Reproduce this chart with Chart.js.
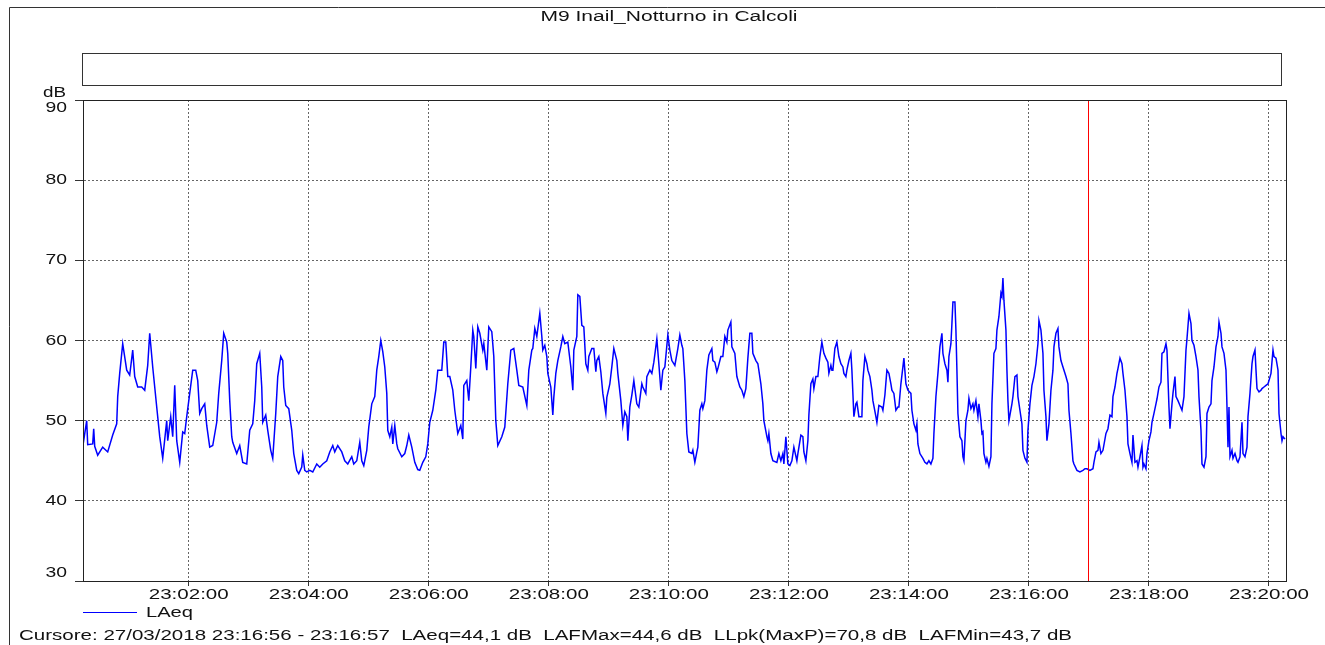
<!DOCTYPE html>
<html>
<head>
<meta charset="utf-8">
<title>M9 Inail_Notturno in Calcoli</title>
<script src="https://cdn.jsdelivr.net/npm/chart.js@4/dist/chart.umd.min.js"></script>
<style>
	html, body { margin: 0; padding: 0; background: #fff; }
	#wrap { width: 1325px; height: 645px; position: relative; }
</style>
</head>
<body>
<div id="wrap"><canvas id="laeq_chart" width="1325" height="645"></canvas></div>
<script>
// seconds after 23:00:00, LAeq in dB
const seg1 = [[14,46.7],[18,50],[19,47],[24,47.1],[25,49],[26,46.8],[29,45.7],[34,46.7],[39,46.1],[44,48.2],[48,49.6],[49,53],[51,55.9],[54,59.6],[58,56.3],[61,55.7],[64,58.8],[66,55.5],[69,54.2],[73,54.2],[76,53.8],[79,56.9],[81,60.9],[84,56.7],[88,51.7],[91,48],[94,45.3],[98,50],[99,47.5],[102,50.5],[104,48],[106,54.4],[108,47.5],[111,44.8],[114,48.6],[116,48.4],[118,50.5],[121,53.4],[124,56.3],[127,56.3],[129,55],[131,50.9],[133,51.5],[136,52.1],[138,49.4],[141,46.7],[144,46.9],[148,49.8],[150,53.4],[153,57.5],[155,60.9],[158,59.8],[159,58.4],[161,52.5],[163,48],[164,47.3]];
const seg2 = [[168,45.9],[171,46.9],[174,44.8],[178,44.6],[181,48.8],[184,49.6],[186,52.5],[188,57.1],[191,58.4],[193,54.2],[194,49.8],[197,50.7],[199,48.8],[202,46.3],[204,45.3],[207,50.9],[209,55.5],[212,58],[214,57.5],[215,54.2],[217,51.9],[220,51.5],[223,48.8],[225,45.9],[228,43.8],[230,43.4],[233,44.2],[234,45.7],[236,43.8],[238,43.6],[241,43.8],[244,43.6],[248,44.6],[251,44.2],[254,44.6],[258,45],[261,46.1],[264,46.9],[266,46.1],[269,46.9],[273,46.1],[276,45],[279,44.6],[283,45.5],[285,44.6],[288,45],[291,47.3],[293,45],[295,44.4],[298,46.3],[300,49.2],[303,52.1],[306,53],[308,56.3],[310,58],[312,60],[314,58.6]];
const seg3 = [[316,56.7],[318,53.4],[319,48.8],[321,48],[323,49.2],[324,47.1],[326,49.4],[328,47.1],[329,46.5],[333,45.5],[336,45.9],[338,46.9],[340,48.2],[343,46.7],[346,44.8],[349,43.9],[351,43.8],[354,44.8],[357,45.5],[359,47.1],[361,49.8],[364,51.3],[367,53.8],[369,56.3],[373,56.3],[375,59.8],[377,59.8],[379,55.5],[381,55.5],[384,53.8],[386,51.3],[389,48.4],[392,49.4],[394,47.7],[395,54.4],[398,55],[400,52.5],[402,56.7],[404,61.3],[405,60.5],[407,56.5],[409,61.7],[411,60.9],[414,58.8],[415,59.6],[418,56.3],[420,61.7],[423,61.1],[425,58],[427,50],[429,46.9],[433,48],[436,49.2],[439,54.6],[442,58.8],[445,59],[448,56.3],[450,54.4],[454,54.2],[458,51.9],[460,56.3],[463,58.8],[464,59]];
const seg4 = [[466,61.5],[468,60.5],[471,63.4],[473,60.5],[474,58.8],[476,59.4],[478,58],[479,55.9],[482,54.2],[484,50.7],[485,52.9],[487,55.9],[489,57.5],[492,59.2],[494,60.5],[496,59.6],[499,59.8],[502,56.7],[504,53.8],[505,58.8],[508,60.5],[509,65.7],[511,65.5],[513,61.9],[515,61.7],[517,57.1],[519,56.3],[520,58],[523,59],[525,59],[527,56.1],[528,57.5],[530,58],[532,56.1],[534,53.4],[537,50.9],[538,52.9],[541,54.6],[543,56.7],[545,59],[548,57.5],[549,55.9],[552,52.5],[554,49.4],[556,51.1],[558,50.5],[559,47.5],[561,51.7],[563,53.2],[565,55],[568,52.1],[570,51.7],[573,54.6],[574,54.2],[577,53.4],[578,55.5],[581,56.3],[583,55.9],[585,57.3],[588,60.2],[590,57.1],[592,53.8],[594,56.3],[596,56.7],[599,60.7],[601,58.8],[603,57.5],[606,56.9],[609,59],[611,60.7],[613,59.4]];
const seg5 = [[614,59],[616,55],[617,51.7],[618,48.4],[620,46.1],[623,45.9],[624,46.3],[626,44.8],[628,46.1],[629,46.7],[631,51.3],[633,52.1],[634,51.5],[636,52.5],[638,56.3],[640,58.2],[643,59],[644,57.5],[646,57.3],[648,56.1],[649,56.5],[652,58],[654,58],[656,60.5],[658,59.8],[659,61.3],[662,62.3],[663,59.2],[666,58.4],[668,55.5],[671,54.2],[673,53.8],[675,53],[677,54],[679,57.8],[681,60.9],[683,60.9],[684,58.4],[687,57.5],[689,57.1],[692,54.6],[694,52.1],[695,50],[698,48],[699,47.5],[700,48.4],[702,45.9],[704,45],[708,44.8],[710,45.9],[712,45],[714,45.9],[715,44.6],[717,48],[719,44.6],[721,44.4],[723,45],[725,46.7],[728,45],[729,45.9],[732,48.2],[734,48],[735,46.1],[737,45],[739,47.5],[740,50.7],[742,54.6],[744,55.2],[745,54],[747,55.5],[749,55.5],[751,58],[753,59.8],[755,58.4],[757,57.8],[759,57.3],[760,55.9],[762,56.9],[763,56.3]];
const seg6 = [[764,56.3],[766,59],[768,59.8],[770,58],[772,57.1],[774,56.7],[775,55.9],[777,55.5],[778,56.3],[780,57.5],[782,58.4],[783,56.3],[785,50.5],[787,52.1],[788,52.3],[790,50.5],[793,50.5],[794,55],[796,58],[798,57.1],[799,56.3],[801,55.5],[803,53.8],[804,52.5],[807,50.5],[808,49.8],[810,51.9],[813,51.7],[814,51.3],[816,53.2],[818,56.3],[820,55.9],[822,54.6],[823,53.8],[825,53.4],[827,51.3],[829,51.7],[830,51.7],[832,54.6],[834,56.7],[835,57.8],[837,54.6],[839,53.8],[842,53.4],[843,51.3],[845,49.6],[847,48.8],[848,49.6],[849,47.1],[851,45.9],[854,45.3],[856,44.8],[858,44.6],[860,45],[862,44.6],[864,45.3],[865,48.4],[867,53],[869,55.9],[871,59.2],[873,60.9],[874,58.4],[876,57.1],[878,56.3],[879,54.8],[880,58],[882,59.6],[883,62.1],[884,64.8],[886,64.8],[887,61.3],[888,56.3],[889,50.9],[891,48],[893,47.5],[894,45.5],[895,45],[897,50],[899,51.3],[900,52.8],[902,51.5],[904,52.1],[905,51.3],[907,52.5],[909,50.5],[910,52.1],[912,50],[913,48.4]];
const seg7 = [[914,48.6],[915,45.9],[917,44.8],[918,45.3],[920,44.3],[922,45.5],[923,52.1],[925,58.4],[927,59],[928,61.3],[930,63],[932,65.9],[933,65.5],[934,67.8],[935,65],[937,61.3],[938,56.3],[939,52.5],[940,50],[941,50.7],[943,52.1],[944,53],[946,55.5],[948,55.7],[949,53],[951,51.3],[953,49.6],[954,46.3],[956,45.3],[958,44.8],[959,48.8],[961,52.1],[963,54.4],[965,55.5],[967,57.1],[969,59.6],[970,62.5],[972,61.3],[974,58.4],[975,53.8],[977,50.5],[978,47.5],[980,49.6],[982,53.8],[984,56.3],[985,59.2],[987,60.9],[989,61.5],[990,59.2],[992,57.5],[994,56.7],[997,55.5],[999,54.6],[1000,51.3],[1002,48.4],[1004,45],[1005,44.6],[1008,43.8],[1011,43.6],[1014,43.8],[1016,44],[1018,44],[1021,43.8],[1024,44],[1025,44.8],[1027,46.1],[1029,46.3],[1030,47.3],[1032,45.9],[1034,46.3],[1037,48.4],[1039,49],[1041,50.7],[1043,50.5],[1044,53],[1046,54.2],[1048,55.9],[1049,56.5],[1051,57.8],[1053,57.1],[1054,55.9],[1056,53.8],[1058,50.5],[1059,47.1],[1061,45.9],[1063,44.8],[1064,48.2]];
const seg8 = [[1066,44.8],[1068,45],[1069,44.2],[1071,45.5],[1073,46.9],[1074,44.2],[1075,44.6],[1077,44],[1078,45.9],[1080,47.5],[1082,48.6],[1083,49.8],[1085,50.9],[1087,52.1],[1088,52.7],[1090,54.2],[1092,54.8],[1093,58.4],[1095,58.6],[1097,59.6],[1098,58.8],[1100,51.7],[1101,49],[1103,52.1],[1104,53.4],[1106,55.5],[1107,53],[1109,52.5],[1111,51.9],[1113,51.3],[1115,53],[1117,58.8],[1118,60.2],[1120,63.4],[1122,62.1],[1123,60],[1125,59.4],[1127,58],[1129,56.3],[1130,53],[1132,48.8],[1133,44.6],[1135,44.2],[1137,45.5],[1138,50.9],[1140,51.7],[1142,52.1],[1143,55],[1145,56.7],[1147,59.2],[1149,60.5],[1150,62.3],[1152,60.9],[1153,59.2],[1155,58.4],[1157,56.3],[1158,51.7],[1159,46.7],[1160,51.7],[1161,45.5],[1163,46.3],[1164,45.3],[1166,45.9],[1168,45],[1169,44.8],[1171,45.5],[1173,49.8],[1174,45.9],[1176,45.5],[1178,46.7],[1179,50.5],[1181,53.4],[1183,57.1],[1184,58],[1186,58.8],[1187,56.3],[1188,54],[1190,53.6],[1192,53.8],[1193,54],[1195,54.2],[1197,54.4],[1199,54.6],[1200,55],[1202,55.9],[1204,58.8],[1205,58],[1207,57.8],[1209,56.3],[1210,50.9],[1212,48.4],[1213,47.5],[1214,48],[1216,47.7]];

const xTickSeconds = [120, 240, 360, 480, 600, 720, 840, 960, 1080, 1200];
const xTickLabels = ["23:02:00", "23:04:00", "23:06:00", "23:08:00", "23:10:00", "23:12:00", "23:14:00", "23:16:00", "23:18:00", "23:20:00"];
const yTickValues = [30, 40, 50, 60, 70, 80, 90];
const cursorSecond = 1019;

const chartTitle = "M9 Inail_Notturno in Calcoli";
const seriesName = "LAeq";
const cursorText = "Cursore: 27/03/2018 23:16:56 - 23:16:57  LAeq=44,1 dB  LAFMax=44,6 dB  LLpk(MaxP)=70,8 dB  LAFMin=43,7 dB";

const FONT = '"Liberation Sans", Arial, sans-serif';

// text drawn a bit wider than Arial, like the original program
function stretchedText(ctx, text, x, y, size, width, align) {
	ctx.font = size + "px " + FONT;
	const w = ctx.measureText(text).width;
	const sx = width ? width / w : 1.32;
	ctx.save();
	ctx.translate(x, y);
	ctx.scale(sx, 1);
	ctx.textAlign = align || "left";
	ctx.textBaseline = "middle";
	ctx.fillText(text, 0, 0);
	ctx.restore();
}

const decorations = {
	id: 'decorations',
	beforeDraw(chart) {
		const ctx = chart.ctx;
		ctx.save();
		ctx.fillStyle = "#fff";
		ctx.fillRect(0, 0, chart.width, chart.height);
		ctx.strokeStyle = "#333";
		ctx.lineWidth = 1;
		ctx.beginPath();
		ctx.moveTo(9.5, 645);
		ctx.lineTo(9.5, 7.5);
		ctx.lineTo(1325, 7.5);
		ctx.stroke();
		ctx.strokeRect(82.5, 53.5, 1199, 32);
		ctx.fillStyle = "#111";
		stretchedText(ctx, chartTitle, 669, 17, 14, 257, "center");
		ctx.restore();
	},
	afterDatasetsDraw(chart) {
		const ctx = chart.ctx;
		const area = chart.chartArea;
		const xs = chart.scales.x;
		const ys = chart.scales.y;
		ctx.save();
		// cursor
		const cx = Math.round(xs.getPixelForValue(cursorSecond)) + 0.5;
		ctx.strokeStyle = "#ff0000";
		ctx.lineWidth = 1;
		ctx.beginPath();
		ctx.moveTo(cx, area.top);
		ctx.lineTo(cx, area.bottom);
		ctx.stroke();
		// plot frame
		ctx.strokeStyle = "#222";
		ctx.strokeRect(Math.round(area.left) + 0.5, Math.round(area.top) + 0.5,
			Math.round(area.right - area.left), Math.round(area.bottom - area.top));
		ctx.fillStyle = "#111";
		// y labels
		yTickValues.forEach(v => {
			let py = ys.getPixelForValue(v);
			if (v === 90) py += 8;
			if (v === 30) py -= 8;
			stretchedText(ctx, String(v), 67, py, 15, 21.5, "right");
		});
		stretchedText(ctx, "dB", 66, 93, 15, 23, "right");
		// x labels
		xTickSeconds.forEach((s, i) => {
			stretchedText(ctx, xTickLabels[i], xs.getPixelForValue(s), 595, 15.5, 80, "center");
		});
		// legend
		ctx.strokeStyle = "#0000ff";
		ctx.beginPath();
		ctx.moveTo(83, 612.5);
		ctx.lineTo(137, 612.5);
		ctx.stroke();
		stretchedText(ctx, seriesName, 146, 613, 15.5, 47, "left");
		stretchedText(ctx, cursorText, 19, 636, 15.5, 1053, "left");
		ctx.restore();
	}
};

const points = [].concat(seg1, seg2, seg3, seg4, seg5, seg6, seg7, seg8).map(p => ({ x: p[0], y: p[1] }));

const canvas = document.getElementById('laeq_chart');
const ctx = canvas.getContext('2d');

const myChart = new Chart(ctx, {
	type: 'line',
	data: {
		datasets: [{
			label: seriesName,
			data: points,
			borderColor: '#0000ff',
			borderWidth: 1.5,
			pointRadius: 0,
			tension: 0,
			fill: false
		}]
	},
	options: {
		responsive: false,
		animation: false,
		events: [],
		layout: {
			padding: { left: 0, top: 100, right: 39, bottom: 0 }
		},
		plugins: {
			legend: { display: false },
			title: { display: false },
			tooltip: { enabled: false }
		},
		scales: {
			x: {
				type: 'linear',
				min: 14.3,
				max: 1217,
				afterBuildTicks: scale => {
					scale.ticks = xTickSeconds.map(v => ({ value: v }));
				},
				afterFit: scale => { scale.height = 64; },
				ticks: { display: false },
				grid: {
					color: '#666',
					tickLength: 5,
					tickColor: '#333',
					tickBorderDash: []
				},
				border: { display: true, color: '#222', width: 1, dash: [2, 2] }
			},
			y: {
				min: 30,
				max: 90,
				afterBuildTicks: scale => {
					scale.ticks = yTickValues.map(v => ({ value: v }));
				},
				afterFit: scale => { scale.width = 83; },
				ticks: { display: false },
				grid: {
					color: '#666',
					tickLength: 8,
					tickColor: '#333',
					tickBorderDash: []
				},
				border: { display: true, color: '#222', width: 1, dash: [2, 2] }
			}
		}
	},
	plugins: [decorations]
});
</script>
</body>
</html>
